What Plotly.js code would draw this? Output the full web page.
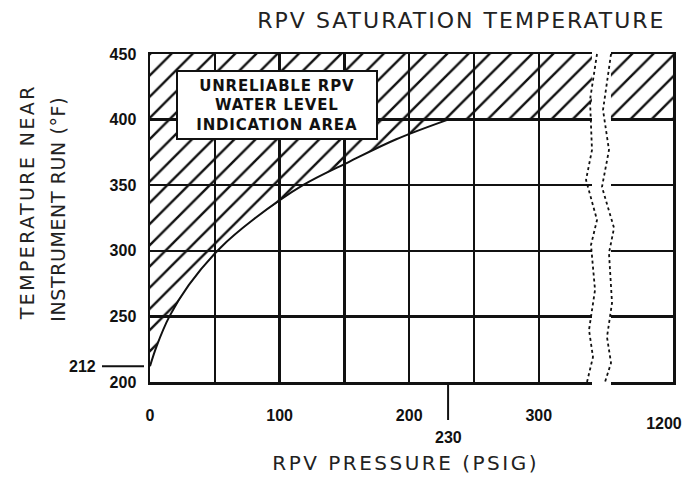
<!DOCTYPE html>
<html><head><meta charset="utf-8">
<script src="https://cdn.plot.ly/plotly-3.0.1.min.js"></script>
<style>
html,body{margin:0;padding:0;background:#fff}
#chart{width:697px;height:492px}
#chart .gtitle{letter-spacing:2px}
#chart g.annotation[data-index="0"] text{letter-spacing:0.8px}
#chart g.annotation[data-index="3"] text{letter-spacing:2.5px}
#chart g.annotation[data-index="4"] text{letter-spacing:2.4px}
#chart g.annotation[data-index="5"] text{letter-spacing:0.6px}
</style>
</head><body><div id="chart"></div>
<script>
// ---- data ----
const curvePsig  = [0, 5, 15, 30, 54, 80, 118, 154, 190, 230];
const curveTempF = [212, 227, 250, 274, 302, 324, 350, 368, 385, 400];
const leftPsigRange  = [0, 341];
const rightPsigRange = [1147, 1209];
const tempRange = [200, 450];
const bandTempF = [400, 450];
const xTickVals = [0, 50, 100, 150, 200, 250, 300];
const xTickText = ['0', '', '100', '', '200', '', '300'];
const x2TickVals = [1200];
const yTickVals = [200, 250, 300, 350, 400, 450];
const markPsig = 230;
const markTempF = 212;

const BLACK = '#111';
const tickFont = {family: 'Liberation Sans, Arial, sans-serif', size: 16, color: BLACK, weight: 'bold'};
const scanFont = {family: 'DejaVu Sans, sans-serif', color: '#222'};
const hatch = {shape: '/', fgcolor: BLACK, size: 15, solidity: 0.16};

// hatched region above the saturation curve (left section)
const leftX = curvePsig.concat([leftPsigRange[1], leftPsigRange[1], leftPsigRange[0], curvePsig[0]]);
const leftY = curveTempF.concat([bandTempF[0], bandTempF[1], bandTempF[1], curveTempF[0]]);
// hatched band (right section)
const rightX = [rightPsigRange[0], rightPsigRange[1], rightPsigRange[1], rightPsigRange[0], rightPsigRange[0]];
const rightY = [bandTempF[0], bandTempF[0], bandTempF[1], bandTempF[1], bandTempF[0]];

const traces = [
  {x: leftX, y: leftY, xaxis: 'x', yaxis: 'y', mode: 'lines', fill: 'toself',
   fillcolor: 'rgba(0,0,0,0)', fillpattern: hatch, line: {width: 0}, hoverinfo: 'skip'},
  {x: rightX, y: rightY, xaxis: 'x2', yaxis: 'y2', mode: 'lines', fill: 'toself',
   fillcolor: 'rgba(0,0,0,0)', fillpattern: hatch, line: {width: 0}, hoverinfo: 'skip'},
  {x: curvePsig, y: curveTempF, xaxis: 'x', yaxis: 'y', mode: 'lines',
   line: {color: BLACK, width: 2, shape: 'spline'}, hoverinfo: 'skip'}
];

const gridCommon = {showgrid: true, gridcolor: BLACK, gridwidth: 2.5, zeroline: false,
  showline: true, linecolor: BLACK, linewidth: 2.5, fixedrange: true};

function paperX(px) { return (px - 150) / 523; }
function paperY(py) { return (382 - py) / 328; }
function wave(pts) {
  return pts.map((p, i) => (i ? 'L' : 'M') + paperX(p[0]).toFixed(4) + ',' + paperY(p[1]).toFixed(4)).join(' ');
}
const waveLeft  = [[597,54],[590,100],[592,150],[586,180],[597,220],[591,245],[595,290],[589,330],[593,357],[587,382]];
const waveRight = [[611,54],[603,110],[609,150],[602,187],[614,228],[609,253],[612,303],[607,337],[611,363],[605,382]];

const layout = {
  width: 697, height: 492,
  margin: {l: 150, r: 24, t: 54, b: 110},
  paper_bgcolor: '#fff', plot_bgcolor: '#fff',
  showlegend: false,
  title: {text: 'RPV SATURATION TEMPERATURE', font: Object.assign({size: 22}, scanFont),
          x: 0.662, xref: 'container', xanchor: 'center', y: 0.958, yanchor: 'middle'},
  xaxis: Object.assign({}, gridCommon, {domain: [0, 0.845], range: leftPsigRange, anchor: 'y',
    tickmode: 'array', tickvals: xTickVals, ticktext: xTickText, mirror: true,
    ticks: 'outside', ticklen: 17, tickcolor: 'rgba(0,0,0,0)', tickfont: tickFont}),
  yaxis: Object.assign({}, gridCommon, {domain: [0, 1], range: tempRange, anchor: 'x',
    tickmode: 'array', tickvals: yTickVals, mirror: false,
    ticks: 'outside', ticklen: 8, tickcolor: 'rgba(0,0,0,0)', tickfont: tickFont}),
  xaxis2: Object.assign({}, gridCommon, {domain: [0.881, 1], range: rightPsigRange, anchor: 'y2',
    showgrid: false, tickmode: 'array', tickvals: x2TickVals, mirror: true,
    ticks: 'outside', ticklen: 25, tickcolor: 'rgba(0,0,0,0)', tickfont: tickFont}),
  yaxis2: Object.assign({}, gridCommon, {domain: [0, 1], range: tempRange, anchor: 'x2',
    tickmode: 'array', tickvals: yTickVals, showticklabels: false, side: 'right', mirror: false}),
  shapes: [
    {type: 'path', xref: 'paper', yref: 'paper', path: wave(waveLeft),
     line: {color: BLACK, width: 1.8, dash: 'dot'}},
    {type: 'path', xref: 'paper', yref: 'paper', path: wave(waveRight),
     line: {color: BLACK, width: 1.8, dash: 'dot'}},
    {type: 'line', xref: 'paper', yref: 'y', x0: paperX(102), x1: paperX(144), y0: markTempF, y1: markTempF,
     line: {color: BLACK, width: 2}},
    {type: 'line', xref: 'x', yref: 'paper', x0: markPsig, x1: markPsig, y0: paperY(383), y1: paperY(420),
     line: {color: BLACK, width: 2}}
  ],
  annotations: [
    {text: 'UNRELIABLE RPV<br>WATER LEVEL<br>INDICATION AREA', xref: 'paper', yref: 'paper',
     x: paperX(277), y: paperY(105), xanchor: 'center', yanchor: 'middle', showarrow: false,
     width: 196, height: 64, align: 'center', bgcolor: '#fff', bordercolor: BLACK, borderwidth: 2,
     borderpad: 1, font: {family: 'DejaVu Sans, sans-serif', size: 15, color: BLACK, weight: 'bold'}},
    {text: String(markTempF), xref: 'paper', yref: 'y', x: paperX(98), y: markTempF,
     xanchor: 'right', yanchor: 'middle', showarrow: false, font: tickFont},
    {text: String(markPsig), xref: 'x', yref: 'paper', x: markPsig, y: paperY(437),
     xanchor: 'center', yanchor: 'middle', showarrow: false, font: tickFont},
    {text: 'RPV PRESSURE (PSIG)', xref: 'paper', yref: 'paper', x: paperX(405), y: paperY(463),
     xanchor: 'center', yanchor: 'middle', showarrow: false, font: Object.assign({size: 20}, scanFont)},
    {text: 'TEMPERATURE NEAR', xref: 'paper', yref: 'paper', x: paperX(27), y: paperY(202),
     xanchor: 'center', yanchor: 'middle', textangle: -90, showarrow: false, font: Object.assign({size: 19}, scanFont)},
    {text: 'INSTRUMENT RUN (°F)', xref: 'paper', yref: 'paper', x: paperX(58), y: paperY(210),
     xanchor: 'center', yanchor: 'middle', textangle: -90, showarrow: false, font: Object.assign({size: 19}, scanFont)}
  ]
};

Plotly.newPlot('chart', traces, layout, {displayModeBar: false, staticPlot: true});
</script>
</body></html>
